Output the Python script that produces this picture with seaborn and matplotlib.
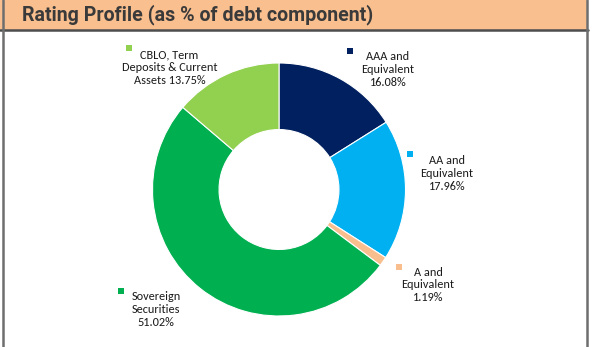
import matplotlib
matplotlib.use("Agg")
import matplotlib.pyplot as plt
from matplotlib.patches import Rectangle
import seaborn as sns

# Rating profile of the debt component (%), clockwise from 12 o'clock
categories = [
    "AAA and\nEquivalent",
    "AA and\nEquivalent",
    "A and\nEquivalent",
    "Sovereign\nSecurities",
    "CBLO, Term\nDeposits & Current\nAssets",
]
shares = [16.08, 17.96, 1.19, 51.02, 13.75]
colors = ["#002060", "#00B0F0", "#F8BE8E", "#00B050", "#92D050"]
title = "Rating Profile (as % of debt component)"

sns.set_theme(style="white")
label_font = ["Carlito", "Lato", "DejaVu Sans"]
title_font = ["Roboto", "DejaVu Sans"]

W, H = 596, 347
fig = plt.figure(figsize=(W / 100, H / 100), dpi=100)
fig.patch.set_facecolor("white")


def fx(px):
    return px / W


def fy(py):
    return 1 - py / H


# header band and frame
fig.patches.append(Rectangle((fx(0), fy(29.5)), fx(587), 29.5 / H, transform=fig.transFigure,
                             facecolor="#F9BF8F", edgecolor="none", zorder=0))
fig.add_artist(plt.Line2D([fx(0), fx(588)], [fy(29.5), fy(29.5)], transform=fig.transFigure,
                          color="#4d4d4d", lw=1.8))
fig.add_artist(plt.Line2D([fx(3), fx(3)], [fy(0), fy(347)], transform=fig.transFigure,
                          color="#6e6e6e", lw=1.8))
fig.add_artist(plt.Line2D([fx(587), fx(587)], [fy(0), fy(347)], transform=fig.transFigure,
                          color="#6e6e6e", lw=1.8))
fig.text(fx(22), fy(20.7), title, family=title_font, fontweight="bold", fontsize=14.1,
         color="#3a3a3a", ha="left", va="baseline")

# donut
cx, cy, r = 279, 189.5, 126.5
ax = fig.add_axes([fx(cx - r), fy(cy + r), 2 * r / W, 2 * r / H])
ax.pie(shares, colors=colors, startangle=90, counterclock=False, radius=1,
       wedgeprops=dict(width=0.526, edgecolor="white", linewidth=0.8))
ax.set_xlim(-1, 1)
ax.set_ylim(-1, 1)
ax.set_aspect("auto")
ax.axis("off")

# labels: (text centre x, first line y, marker x, marker y)
label_pos = [
    (388, 51.5, 350, 51),
    (447, 155, 409.5, 154),
    (428, 266.5, 398.5, 266.5),
    (156, 291.5, 120.5, 290.5),
    (169.5, 49, 129, 48),
]
for name, val, col, (tx, ty, mx, my) in zip(categories, shares, colors, label_pos):
    text = f"{name} {val:.2f}%" if name.startswith("CBLO") else f"{name}\n{val:.2f}%"
    fig.text(fx(tx), fy(ty), text, family=label_font, fontsize=8.8, color="#1a1a1a",
             ha="center", va="top", linespacing=1.2, transform=fig.transFigure)
    fig.patches.append(Rectangle((fx(mx - 3), fy(my + 3)), 6 / W, 6 / H, transform=fig.transFigure,
                                 facecolor=col, edgecolor="none"))

fig.savefig("out.png", dpi=100)
